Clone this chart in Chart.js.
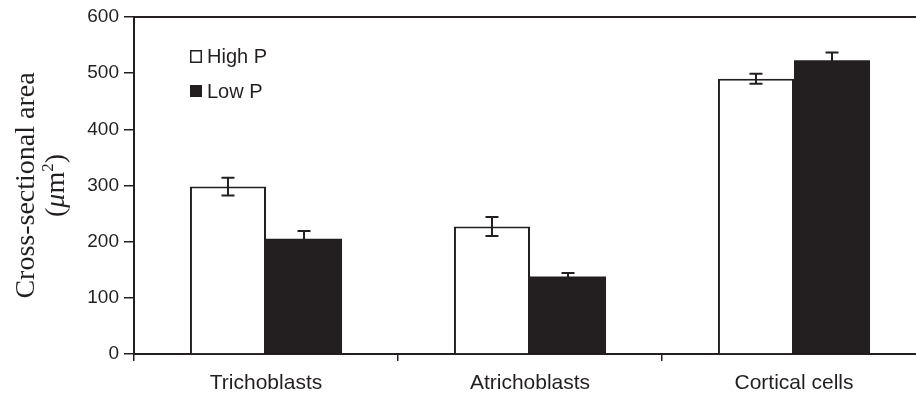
<!DOCTYPE html>
<html>
<head>
<meta charset="utf-8">
<script src="https://cdn.jsdelivr.net/npm/chart.js@4.4.0/dist/chart.umd.min.js"></script>
<style>
html,body{margin:0;padding:0;background:#fff;overflow:hidden;}
#wrap{width:935px;height:395px;}
</style>
</head>
<body>
<div id="wrap"><canvas id="c" width="935" height="395"></canvas></div>
<script>
const categories = ['Trichoblasts', 'Atrichoblasts', 'Cortical cells'];
const highP = [298, 227, 490];
const highPErr = [16, 17, 9];
const lowP = [205, 138, 523];
const lowPErr = [14, 6, 14];
const yTicks = [0, 100, 200, 300, 400, 500, 600];

const INK = '#231f20';

const errorBars = {
  id: 'errorBars',
  afterDatasetsDraw(chart) {
    const ctx = chart.ctx;
    const ys = chart.scales.y;
    chart.data.datasets.forEach((ds, di) => {
      const meta = chart.getDatasetMeta(di);
      meta.data.forEach((el, i) => {
        const v = ds.data[i], e = ds.errors[i];
        const yt = ys.getPixelForValue(v + e);
        const yb = ys.getPixelForValue(v - e);
        const x = el.x;
        ctx.save();
        ctx.strokeStyle = INK;
        ctx.lineWidth = 2;
        ctx.beginPath();
        ctx.moveTo(x, yt); ctx.lineTo(x, yb);
        ctx.moveTo(x - 6.5, yt); ctx.lineTo(x + 6.5, yt);
        ctx.moveTo(x - 6.5, yb); ctx.lineTo(x + 6.5, yb);
        ctx.stroke();
        ctx.restore();
      });
    });
  }
};

const decor = {
  id: 'decor',
  afterDraw(chart) {
    const ctx = chart.ctx;
    const ca = chart.chartArea;
    ctx.save();
    // top frame line
    ctx.strokeStyle = INK;
    ctx.lineWidth = 2;
    ctx.beginPath();
    ctx.moveTo(ca.left, ca.top); ctx.lineTo(chart.width, ca.top);
    ctx.stroke();
    // legend
    ctx.font = '20px "Liberation Sans", Arial, sans-serif';
    ctx.textBaseline = 'middle';
    ctx.textAlign = 'left';
    ctx.fillStyle = INK;
    const lx = ca.left + 56;
    const rows = [ca.top + 39, ca.top + 74];
    chart.data.datasets.forEach((ds, di) => {
      const y = rows[di];
      if (di === 0) {
        ctx.lineWidth = 1.5;
        ctx.strokeRect(lx + 0.75, y - 5.25, 10.5, 11.5);
      } else {
        ctx.fillRect(lx, y - 6, 12, 12);
      }
      ctx.fillText(ds.label, lx + 17, y + 1);
    });
    // y axis title
    ctx.translate(0, (ca.top + ca.bottom) / 2);
    ctx.rotate(-Math.PI / 2);
    ctx.textBaseline = 'alphabetic';
    ctx.textAlign = 'center';
    ctx.font = '28px "Liberation Serif", "Times New Roman", serif';
    ctx.fillText('Cross-sectional area', 0, 34);
    // second line: (μm²) with italic μ
    const fN = '28px "Liberation Serif", serif';
    const fI = 'italic 28px "Liberation Serif", serif';
    const fS = '17px "Liberation Serif", serif';
    const parts = [['(', fN, 0], ['\u03BC', fI, 0], ['m', fN, 0], ['2', fS, -11], [')', fN, 0]];
    let w = 0;
    parts.forEach(p => { ctx.font = p[1]; p.push(ctx.measureText(p[0]).width); w += p[3]; });
    let x = -w / 2;
    ctx.textAlign = 'left';
    parts.forEach(p => { ctx.font = p[1]; ctx.fillText(p[0], x, 64 + p[2]); x += p[3]; });
    ctx.restore();
  }
};

new Chart(document.getElementById('c'), {
  type: 'bar',
  data: {
    labels: categories,
    datasets: [
      { label: 'High P', data: highP, errors: highPErr, backgroundColor: '#ffffff', borderColor: INK, borderWidth: 2, borderSkipped: 'bottom' },
      { label: 'Low P', data: lowP, errors: lowPErr, backgroundColor: INK, borderColor: INK, borderWidth: 0 }
    ]
  },
  options: {
    responsive: false,
    animation: false,
    events: [],
    layout: { padding: { top: 17, right: 9, left: 0, bottom: 0 } },
    datasets: { bar: { categoryPercentage: 0.576, barPercentage: 1.0 } },
    plugins: { legend: { display: false }, tooltip: { enabled: false } },
    scales: {
      x: {
        grid: { display: true, offset: true, drawOnChartArea: false, drawTicks: true, tickLength: 7, color: INK, lineWidth: 1.5 },
        border: { display: true, color: INK, width: 2 },
        ticks: { color: INK, font: { family: '"Liberation Sans", Arial, sans-serif', size: 21 }, padding: 10 },
        afterFit(s) { s.height = 41; }
      },
      y: {
        min: 0, max: 600,
        afterBuildTicks(s) { s.ticks = yTicks.map(v => ({ value: v })); },
        grid: { display: true, drawOnChartArea: false, drawTicks: true, tickLength: 10, color: INK, lineWidth: 1.5 },
        border: { display: true, color: INK, width: 2 },
        ticks: { color: INK, font: { family: '"Liberation Sans", Arial, sans-serif', size: 19 }, padding: 5 },
        afterFit(s) { s.width = 134; }
      }
    }
  },
  plugins: [errorBars, decor]
});
</script>
</body>
</html>
